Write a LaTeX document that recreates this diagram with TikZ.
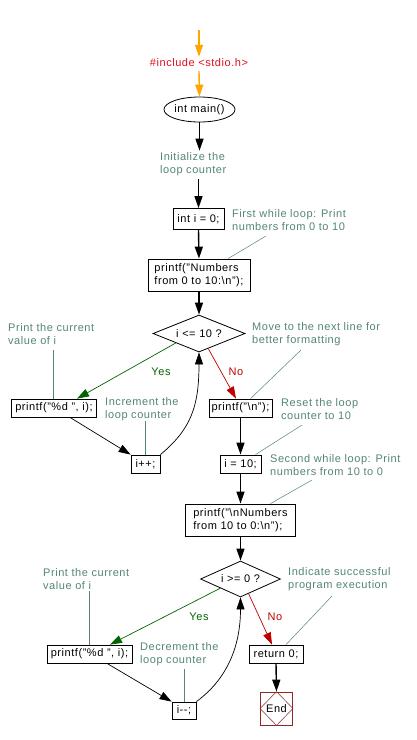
\documentclass[tikz,border=0pt]{standalone}
\usepackage{fontspec}
\setmainfont{Liberation Sans}[LetterSpace=5]
\usetikzlibrary{shapes.geometric,arrows.meta,calc}
\definecolor{cmt}{RGB}{84,134,120}
\definecolor{hdrred}{RGB}{224,16,32}
\definecolor{orng}{RGB}{255,165,0}
\definecolor{yesgreen}{RGB}{0,100,0}
\definecolor{nored}{RGB}{192,0,0}
\definecolor{endred}{RGB}{140,40,40}
\begin{document}
\begin{tikzpicture}[x=1pt,y=-1pt,
  every node/.style={font=\fontsize{11}{13}\selectfont, inner sep=0pt},
  box/.style={draw, line width=0.8pt, minimum height=18pt, align=left},
  decbox/.style={draw, diamond, aspect=2.5, line width=0.8pt},
  cmtnode/.style={text=cmt, align=left, anchor=west},
  lead/.style={draw=cmt, line width=0.5pt},
  tip/.style={-{Triangle[length=12pt,width=8pt]}},
  flow/.style={tip, line width=1.4pt},
  thinflow/.style={tip, line width=0.7pt},
]
\useasboundingbox[fill=white] (0,0) rectangle (416,740);

% nodes
\node[text=hdrred] (hdr) at (199,63) {\#include <stdio.h>};
\node[draw, ellipse, line width=0.8pt, minimum width=67pt, minimum height=25pt] (main) at (199.5,109.5) {int main()};
\node[cmtnode] (cinit) at (160,164.5) {Initialize the\\loop counter};
\node[box, minimum width=51pt, minimum height=21pt] (init) at (198.5,219) {int i = 0;};
\node[cmtnode] (c1) at (232,220.5) {First while loop: Print\\numbers from 0 to 10};
\node[box, minimum width=102pt, minimum height=32pt] (p1) at (199,275) {printf("Numbers\\from 0 to 10:\textbackslash n");};
\node[decbox, minimum width=92pt, minimum height=37pt] (d1) at (199,333.5) {i <= 10 ?};
\node[cmtnode] (c2) at (8,334.5) {Print the current\\value of i};
\node[cmtnode] (c3) at (252,334.5) {Move to the next line for\\better formatting};
\node[box, minimum width=85pt] (pd1) at (54,408) {printf("\%d ", i);};
\node[cmtnode] (c4) at (105,409.5) {Increment the\\loop counter};
\node[box, minimum width=29pt] (inc) at (145.5,464) {i++;};
\node[box, minimum width=63pt] (pn) at (240.5,408) {printf("\textbackslash n");};
\node[cmtnode] (c5) at (281,409.5) {Reset the loop\\counter to 10};
\node[box, minimum width=41pt] (i10) at (240.5,464) {i = 10;};
\node[cmtnode] (c6) at (270,465) {Second while loop: Print\\numbers from 10 to 0};
\node[box, minimum width=110pt, minimum height=32pt] (p2) at (240.5,520) {printf("\textbackslash nNumbers\\from 10 to 0:\textbackslash n");};
\node[decbox, minimum width=80pt, minimum height=36pt] (d2) at (240.5,579) {i >= 0 ?};
\node[cmtnode] (c7) at (43,579.5) {Print the current\\value of i};
\node[cmtnode] (c8) at (288,579.5) {Indicate successful\\program execution};
\node[box, minimum width=85pt] (pd2) at (89.5,654) {printf("\%d ", i);};
\node[cmtnode] (c9) at (140,654.5) {Decrement the\\loop counter};
\node[box, minimum width=24pt, minimum height=17pt] (dec) at (184,710.5) {i{-}{-};};
\node[box, minimum width=54pt] (ret) at (276,654) {return 0;};
\node[draw=endred, line width=0.8pt, minimum width=32pt, minimum height=33pt] (end) at (276.5,708.5) {End};
\draw[endred, line width=0.5pt] (end.north) -- (end.east) -- (end.south) -- (end.west) -- cycle;

\node[text=yesgreen] (y1) at (161,372) {Yes};
\node[text=nored] (n1) at (236,372) {No};
\node[text=yesgreen] (y2) at (199,617) {Yes};
\node[text=nored] (n2) at (275,617) {No};

% orange arrows
\coordinate (top) at (199,30);
\draw[tip, orng, line width=1.4pt] (top) -- ([yshift=2pt]hdr.north);
\draw[tip, orng, line width=1.4pt] ([yshift=-4pt]hdr.south) -- (main.north);

% main flow
\draw[flow] (main.south) -- ([yshift=2pt]main.south |- cinit.north);
\draw[flow] ([yshift=-3pt]init.north |- cinit.south) -- (init.north);
\draw[flow] (init.south) -- (p1.north);
\draw[flow] (p1.south) -- (d1.north);
\draw[thinflow, yesgreen] (d1.south west) -- ([xshift=23pt]pd1.north);
\draw[thinflow] ([xshift=16pt]pd1.south) -- (inc.north west);
\draw[thinflow] (inc.north east) .. controls +(30,-25) and +(0,55) .. (d1.south);
\draw[thinflow, nored] ($(d1.south)!0.2!(d1.east)$) -- ([xshift=-4.5pt]pn.north);
\draw[flow] (pn.south) -- (i10.north);
\draw[flow] (i10.south) -- (p2.north);
\draw[flow] (p2.south) -- (d2.north);
\draw[thinflow, yesgreen] (d2.south west) -- ([xshift=20.5pt]pd2.north);
\draw[thinflow] ([xshift=17.5pt]pd2.south) -- (dec.north west);
\draw[thinflow] (dec.north east) .. controls +(30,-22) and +(0,50) .. (d2.south);
\draw[thinflow, nored] ($(d2.south)!0.2!(d2.east)$) -- ([xshift=-4pt]ret.north);
\draw[flow] (ret.south) -- (end.north);

% leader lines
\coordinate (l1) at (266,236);
\coordinate (l2) at (53,350);
\coordinate (l3) at (145.5,421);
\coordinate (l4) at (301,350);
\coordinate (l5) at (302,425);
\coordinate (l6) at (312,480);
\coordinate (l7) at (89,591);
\coordinate (l8) at (184,669);
\coordinate (l9) at (332,596);
\draw[lead] (l1) -- ([xshift=29pt]p1.north);
\draw[lead] (l2) -- (l2 |- pd1.north);
\draw[lead] (l3) -- (inc.north);
\draw[lead] (l4) -- ([xshift=10pt]pn.north);
\draw[lead] (l5) -- ([xshift=15pt]i10.north);
\draw[lead] (l6) -- ([xshift=30pt]p2.north);
\draw[lead] (l7) -- (l7 |- pd2.north);
\draw[lead] (l8) -- (dec.north);
\draw[lead] (l9) -- ([xshift=10pt]ret.north);
\end{tikzpicture}
\end{document}
